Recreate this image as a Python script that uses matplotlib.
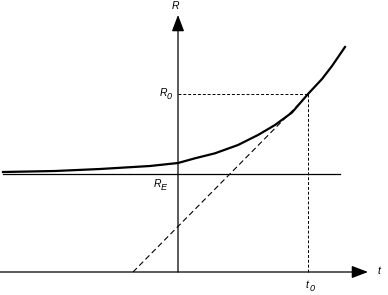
import matplotlib
matplotlib.use('Agg')
import matplotlib.pyplot as plt

# curva R(t) (origine nell'incrocio degli assi)
t_curve = [-17.5, -12.3, -7.8, -2.8, 0.0, 1.7, 3.7, 6.0, 8.0, 9.7, 11.4, 13.0, 14.4, 15.4, 16.7]
R_curve = [10.0, 10.1, 10.3, 10.6, 10.9, 11.37, 11.87, 12.7, 13.7, 14.7, 15.95, 17.8, 19.3, 20.6, 22.5]

R_E = 9.8
R_0 = 17.8
t_0 = 13.0
t_tangent_start = -4.5   # dove la tangente taglia l'asse t
t_RE_range = [-17.5, 16.2]
t_axis_range = [-17.8, 19.0]
R_axis_top = 25.7

fig = plt.figure(figsize=(3.88, 2.95), dpi=100)
ax = fig.add_axes([0, 0, 1, 1])
ax.set_xlim(-17.8, 21.0)
ax.set_ylim(-2.3, 27.2)
ax.axis('off')


def etichetta(x, y, base, pedice=None, dx=4.6):
    # lettera in corsivo con eventuale pedice un po' spostato in basso
    ax.annotate(base, (x, y), xytext=(0, 0), textcoords='offset points',
                fontsize=7.5, fontstyle='italic', family='Liberation Sans',
                ha='left', va='center')
    if pedice:
        ax.annotate(pedice, (x, y), xytext=(dx, -2.2), textcoords='offset points',
                    fontsize=6.5, fontstyle='italic', family='Liberation Sans',
                    ha='left', va='center')


# assi con freccia
for xy, xytext in [((t_axis_range[1], 0), (t_axis_range[0], 0)),
                   ((0, R_axis_top), (0, 0))]:
    ax.annotate('', xy=xy, xytext=xytext,
                arrowprops=dict(arrowstyle='-|>,head_length=1.0,head_width=0.38',
                                mutation_scale=10, lw=0.9, color='black',
                                shrinkA=0, shrinkB=0))

# asintoto R_E
ax.plot(t_RE_range, [R_E, R_E], color='black', lw=0.9)

# curva
ax.plot(t_curve, R_curve, color='black', lw=1.6, solid_joinstyle='round')

# linee tratteggiate per R_0 e t_0
ax.plot([0, t_0], [R_0, R_0], color='black', lw=0.7, dashes=(3, 2))
ax.plot([t_0, t_0], [0, R_0], color='black', lw=0.7, dashes=(3, 2))

# tangente
ax.plot([t_tangent_start, t_0 - 0.6], [0, R_0 - 0.7], color='black', lw=0.8, dashes=(5, 3))

# etichette
etichetta(-0.6, 26.6, 'R')
etichetta(20.0, 0.15, 't')
etichetta(-1.8, R_0 + 0.1, 'R', '0')
etichetta(-2.4, R_E - 1.0, 'R', 'E')
etichetta(12.8, -1.3, 't', '0', dx=2.6)

fig.savefig('out.png', dpi=100)
